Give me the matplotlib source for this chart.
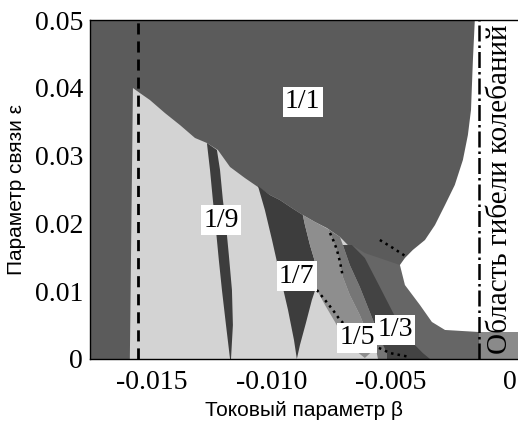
import matplotlib.pyplot as plt

# --- region boundaries (beta, eps) ---
light_b = [-0.01593, -0.01580, -0.01551, -0.01509, -0.01446, -0.01383, -0.01320, -0.01270,
           -0.01224, -0.01173, -0.01111, -0.01056, -0.01006, -0.00964, -0.00914, -0.00868,
           -0.00817, -0.00767, -0.00712, -0.00671, -0.00515, -0.01593]
light_e = [0.0, 0.03997, 0.03923, 0.03820, 0.03628, 0.03451, 0.03260, 0.03186,
           0.03083, 0.02832, 0.02670, 0.02537, 0.02419, 0.02345, 0.02227, 0.02124,
           0.02021, 0.01932, 0.01799, 0.01652, 0.0, 0.0]

t19_b = [-0.01270, -0.01257, -0.01245, -0.01232, -0.01220, -0.01207, -0.01190, -0.01173,
         -0.01169, -0.01161, -0.01165, -0.01178, -0.01190, -0.01203, -0.01215, -0.01228]
t19_e = [0.03186, 0.02788, 0.02345, 0.01903, 0.01460, 0.01018, 0.00501, 0.0,
         0.0, 0.00501, 0.01018, 0.01534, 0.01976, 0.02345, 0.02788, 0.03083]

t17_b = [-0.01056, -0.01027, -0.00997, -0.00964, -0.00930, -0.00905, -0.00893, -0.00880,
         -0.00855, -0.00830, -0.00809, -0.00813, -0.00838, -0.00859, -0.00868, -0.00914,
         -0.00964, -0.01006]
t17_e = [0.02552, 0.02198, 0.01755, 0.01239, 0.00723, 0.00280, 0.0, 0.00206,
         0.00531, 0.00870, 0.01091, 0.01386, 0.01681, 0.01976, 0.02124, 0.02227,
         0.02345, 0.02419]

t15_b = [-0.00868, -0.00817, -0.00763, -0.00754, -0.00725, -0.00700, -0.00671, -0.00629,
         -0.00595, -0.00562, -0.00608, -0.00650, -0.00692, -0.00733, -0.00775, -0.00809,
         -0.00813, -0.00838, -0.00859]
t15_e = [0.02124, 0.02021, 0.01917, 0.01858, 0.01608, 0.01209, 0.00944, 0.00649,
         0.00354, 0.00162, 0.00015, 0.00133, 0.00280, 0.00546, 0.00796, 0.01018,
         0.01386, 0.01681, 0.01976]

band_b = [-0.00763, -0.00712, -0.00700, -0.00671, -0.00629, -0.00574, -0.00545, -0.00515,
          -0.00515, -0.00553, -0.00562, -0.00595, -0.00629, -0.00671, -0.00700, -0.00725,
          -0.00754]
band_e = [0.01917, 0.01799, 0.01681, 0.01386, 0.01062, 0.00575, 0.00310, 0.00088,
          0.0, 0.0, 0.00162, 0.00354, 0.00649, 0.00944, 0.01209, 0.01608, 0.01858]

mid_b = [-0.00662, -0.00608, -0.00461, -0.00440, -0.00377, -0.00327, -0.00272, -0.00130,
         -0.00130, -0.00335, -0.00515]
mid_e = [0.01681, 0.01563, 0.01386, 0.01091, 0.00796, 0.00546, 0.00428, 0.00398,
         0.0, 0.0, 0.0]

t13_b = [-0.00700, -0.00671, -0.00629, -0.00574, -0.00545, -0.00515, -0.00515, -0.00335,
         -0.00365, -0.00419, -0.00474, -0.00545, -0.00608, -0.00662]
t13_e = [0.01681, 0.01386, 0.01062, 0.00575, 0.00310, 0.00088, 0.0, 0.0,
         0.00088, 0.00280, 0.00575, 0.01062, 0.01490, 0.01681]

white_b = [-0.00147, -0.00155, -0.00163, -0.00176, -0.00197, -0.00231, -0.00272, -0.00314,
           -0.00356, -0.00407, -0.00440, -0.00461, -0.00440, -0.00377, -0.00327, -0.00272,
           -0.00130, 0.00034, 0.00034]
white_e = [0.05, 0.04410, 0.03673, 0.03304, 0.02935, 0.02566, 0.02271, 0.01976,
           0.01755, 0.01608, 0.01490, 0.01386, 0.01091, 0.00796, 0.00546, 0.00428,
           0.00398, 0.00398, 0.05]

corner_b = [-0.00130, 0.00034, 0.00034, -0.00130]
corner_e = [0.00398, 0.00398, 0.0, 0.0]

# black dotted boundaries
dots1_b = [-0.00754, -0.00737, -0.00725, -0.00712, -0.00700]
dots1_e = [0.01858, 0.01725, 0.01608, 0.01431, 0.01209]
dots2_b = [-0.00809, -0.00775, -0.00742, -0.00712, -0.00658, -0.00599, -0.00557, -0.00503, -0.00419]
dots2_e = [0.01018, 0.00870, 0.00723, 0.00575, 0.00398, 0.00251, 0.00177, 0.00088, 0.00029]
dots3_b = [-0.00545, -0.00490, -0.00432]
dots3_e = [0.01755, 0.01637, 0.01504]

beta_left = -0.01559     # dashed line
beta_death = -0.00130    # dash-dot line

labels = ['1/1', '1/9', '1/7', '1/5', '1/3']
label_b = [-0.00868, -0.01211, -0.00893, -0.00641, -0.00482]
label_e = [0.03791, 0.02050, 0.01224, 0.00310, 0.00428]

xticks = [-0.015, -0.010, -0.005, 0]
xtick_labels = ['-0.015', '-0.010', '-0.005', '0']
yticks = [0, 0.01, 0.02, 0.03, 0.04, 0.05]
ytick_labels = ['0', '0.01', '0.02', '0.03', '0.04', '0.05']

fig = plt.figure(figsize=(5.18, 4.21), dpi=100)
ax = fig.add_axes([90 / 518, 1 - 359 / 421, 428 / 518, 339 / 421])
ax.set_facecolor('#5b5b5b')

ax.fill(light_b, light_e, color='#d3d3d3', lw=0)
ax.fill(t19_b, t19_e, color='#3d3d3d', lw=0)
ax.fill(t17_b, t17_e, color='#3d3d3d', lw=0)
ax.fill(t15_b, t15_e, color='#8e8e8e', lw=0)
ax.fill(mid_b, mid_e, color='#666666', lw=0)
ax.fill(band_b, band_e, color='#767676', lw=0)
ax.fill(t13_b, t13_e, color='#434343', lw=0)
ax.fill(white_b, white_e, color='white', lw=0)
ax.fill(corner_b, corner_e, color='#8a8a8a', lw=0)

for b, e in [(dots1_b, dots1_e), (dots2_b, dots2_e), (dots3_b, dots3_e)]:
    ax.plot(b, e, color='black', ls=':', lw=1.8)

ax.axvline(beta_left, color='black', ls='--', lw=2, dashes=(4, 2.5))
ax.axvline(beta_death, color='black', ls='-.', lw=1.8)

for s, b, e in zip(labels, label_b, label_e):
    ax.text(b, e, s, family='Liberation Serif', fontsize=20, ha='center', va='center',
            bbox=dict(facecolor='white', edgecolor='none', boxstyle='square,pad=0.08'))

ax.text(-0.00040, 0.0250, 'Область гибели колебаний', family='Liberation Serif',
        fontsize=21, rotation=90, ha='center', va='center')

ax.set_xlim(-0.0176, 0.00034)
ax.set_ylim(0, 0.05)
ax.set_xticks(xticks)
ax.set_xticklabels(xtick_labels, family='Liberation Serif', fontsize=20)
ax.set_yticks(yticks)
ax.set_yticklabels(ytick_labels, family='Liberation Serif', fontsize=20)
ax.tick_params(length=0)
ax.tick_params(axis='x', pad=8)
ax.tick_params(axis='y', pad=5)
ax.spines['right'].set_visible(False)
for sp in ['top', 'bottom', 'left']:
    ax.spines[sp].set_linewidth(1)

ax.set_xlabel('Токовый параметр β', family='Liberation Sans', fontsize=15, labelpad=4)
ax.set_ylabel('Параметр связи ε', family='Liberation Sans', fontsize=15, labelpad=6)

plt.savefig('out.png', dpi=100)
